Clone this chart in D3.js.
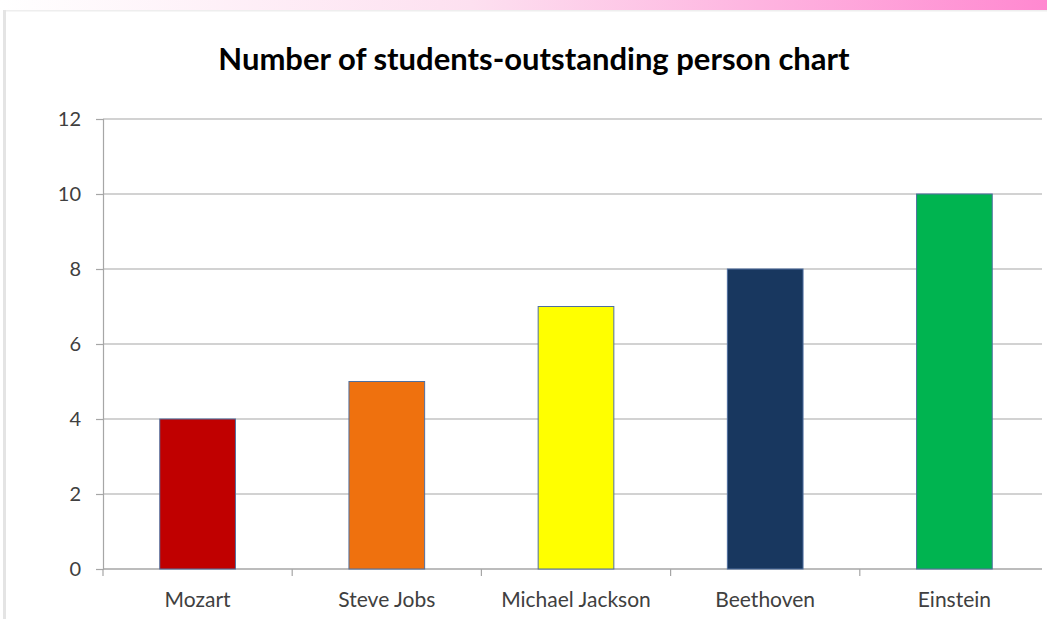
<!DOCTYPE html>
<html>
<head>
<meta charset="utf-8">
<script src="https://cdn.jsdelivr.net/npm/d3@7"></script>
<style>
  body { margin: 0; background: #fff; }
  svg { display: block; }
</style>
</head>
<body>
<div id="chart"></div>
<script>
const width = 1047
const height = 619

const people = ["Mozart", "Steve Jobs", "Michael Jackson", "Beethoven", "Einstein"]
const students = [4, 5, 7, 8, 10]
const barColors = ["#c00000", "#ef710e", "#ffff00", "#18375f", "#00b450"]
const yTicks = [0, 2, 4, 6, 8, 10, 12]

const plot = { left: 103, right: 1049, top: 119, bottom: 569, gridEnd: 1042 }

const svg = d3.select("#chart").append("svg").attr("width", width).attr("height", height)

// slide frame: pink band on top, soft shadow on the left
const defs = svg.append("defs")
const grad = defs.append("linearGradient").attr("id", "band")
grad.append("stop").attr("offset", "0%").attr("stop-color", "#ffffff")
grad.append("stop").attr("offset", "45%").attr("stop-color", "#fde0f0")
grad.append("stop").attr("offset", "100%").attr("stop-color", "#ff88d0")
svg.append("rect").attr("width", width).attr("height", 10).attr("fill", "url(#band)")
svg.append("rect").attr("x", 4).attr("y", 10).attr("width", width).attr("height", 1.5).attr("fill", "#eeeeee")
svg.append("rect").attr("x", 3).attr("y", 10).attr("width", 3).attr("height", height).attr("fill", "#e4e4e4")

const x = d3.scaleBand().domain(people).range([plot.left, plot.right]).paddingInner(0.6).paddingOuter(0.3)
const band = d3.scaleBand().domain(people).range([plot.left, plot.right])
const y = d3.scaleLinear().domain([0, 12]).range([plot.bottom, plot.top])

const labelFont = "Lato, 'Open Sans', sans-serif"

// gridlines
svg.append("g").selectAll("line").data(yTicks).enter().append("line")
    .attr("x1", plot.left).attr("x2", plot.gridEnd)
    .attr("y1", d => y(d)).attr("y2", d => y(d))
    .attr("stroke", "#a6a6a6").attr("stroke-width", 1.2)

// y axis
const yAxisGroup = svg.append("g").attr("transform", `translate(${plot.left},0)`)
yAxisGroup.call(d3.axisLeft(y).tickValues(yTicks).tickSize(7).tickPadding(15))
yAxisGroup.select(".domain").attr("stroke", "#a6a6a6").attr("stroke-width", 1.2)
yAxisGroup.selectAll(".tick line").attr("stroke", "#a6a6a6").attr("stroke-width", 1.2)
yAxisGroup.selectAll(".tick text")
    .attr("font-family", labelFont).attr("font-size", 20).attr("fill", "#404040")

// x axis: ticks between categories
const xAxisGroup = svg.append("g").attr("transform", `translate(0,${plot.bottom})`)
xAxisGroup.append("line").attr("x1", plot.left).attr("x2", plot.gridEnd)
    .attr("stroke", "#a6a6a6").attr("stroke-width", 1.2)
const boundaries = people.map(p => band(p)).concat([plot.right])
xAxisGroup.selectAll(".sep").data(boundaries).enter().append("line")
    .attr("x1", d => d).attr("x2", d => d).attr("y1", 0).attr("y2", 7)
    .attr("stroke", "#a6a6a6").attr("stroke-width", 1.2)
xAxisGroup.selectAll(".lbl").data(people).enter().append("text")
    .attr("x", d => band(d) + band.bandwidth() / 2).attr("y", 38)
    .attr("text-anchor", "middle")
    .attr("font-family", labelFont).attr("font-size", 21).attr("fill", "#404040")
    .text(d => d)

// bars
svg.append("g").selectAll("rect").data(people).enter().append("rect")
    .attr("x", d => x(d))
    .attr("y", (d, i) => y(students[i]))
    .attr("width", x.bandwidth())
    .attr("height", (d, i) => y(0) - y(students[i]))
    .attr("fill", (d, i) => barColors[i])
    .attr("stroke", "#4f6f9f").attr("stroke-width", 1)

// title
svg.append("text").attr("x", 534).attr("y", 70).attr("text-anchor", "middle")
    .attr("font-family", labelFont).attr("font-weight", "bold")
    .attr("font-size", 31).attr("fill", "#000")
    .text("Number of students-outstanding person chart")
</script>
</body>
</html>
